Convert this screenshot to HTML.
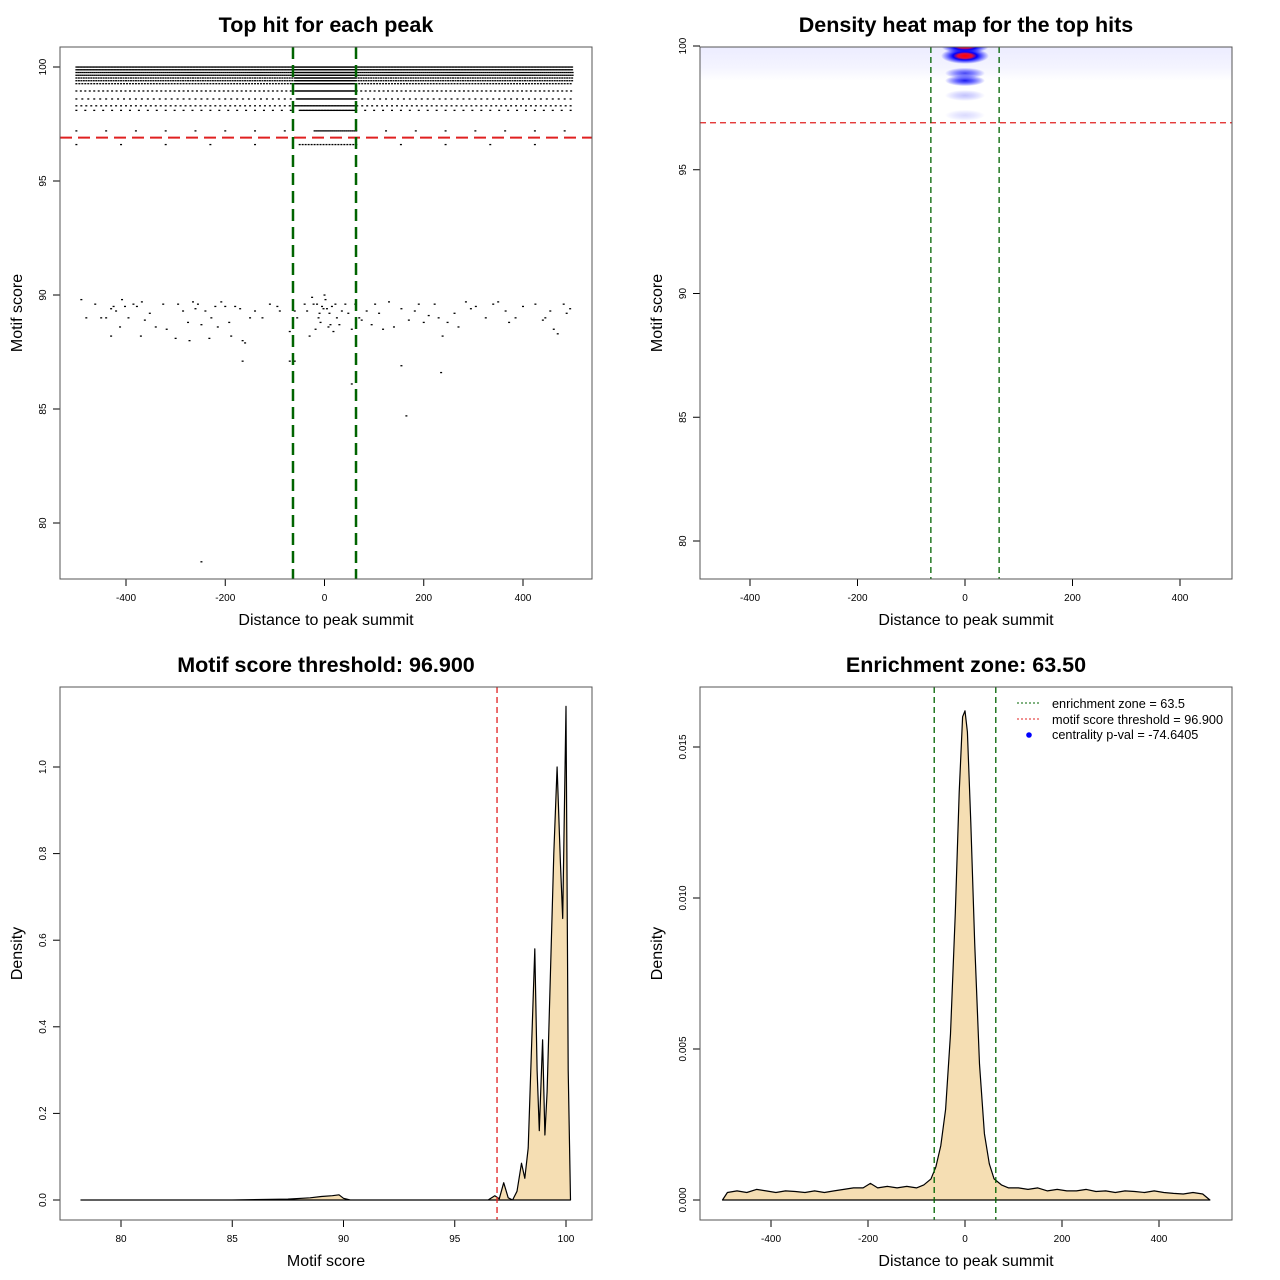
<!DOCTYPE html>
<html><head><meta charset="utf-8">
<style>
html,body{margin:0;padding:0;background:#fff;}
svg{display:block;font-family:"Liberation Sans",sans-serif;}
</style></head>
<body>
<svg id="root" width="1280" height="1280" viewBox="0 0 1280 1280"></svg>
<script>
// ---------- DATA ----------
const rowScores = [100, 99.88, 99.76, 99.64, 99.52, 99.4, 99.27, 98.95, 98.6, 98.3, 98.1, 97.2, 96.6];
const rowOuterStep = [3, 3, 4, 4, 5, 5, 6, 9, 12, 10, 18, 60, 90];
const rowCenterStep = [2, 2, 2, 2, 2, 2, 2, 2, 2, 3, 3, 4, 6];
const sparseX = [-490,-480,-462,-450,-440,-430,-420,-412,-408,-402,-395,-385,-378,-370,-362,-352,-340,-325,-318,-300,-295,-285,-275,-272,-265,-260,-255,-248,-240,-232,-228,-220,-215,-208,-200,-192,-188,-180,-170,-165,-160,-150,-140,-125,-110,-95,-90,-70,-60,-55,-40,-35,-30,-25,-22,-18,-15,-12,-10,-8,-5,-2,0,2,5,8,10,12,15,18,22,25,30,35,42,48,55,62,70,75,85,95,102,110,118,130,140,155,170,182,190,200,210,222,230,238,248,262,270,285,295,305,325,340,350,365,372,385,400,425,440,445,455,462,470,482,488,495,-368,-430,-425,-248,-165,-60,-70,55,165,155,235];
const sparseY = [89.8,89.0,89.6,89.0,89.0,88.2,89.3,88.6,89.8,89.5,89.0,89.6,89.5,88.2,88.9,89.2,88.6,89.6,88.5,88.1,89.6,89.3,88.8,88.0,89.7,89.4,89.6,88.7,89.3,88.1,89.0,89.5,88.6,89.7,89.5,88.8,88.2,89.5,89.4,88.0,87.9,89.0,89.3,89.0,89.6,89.5,89.3,88.4,89.3,89.0,89.6,89.3,88.2,89.9,89.6,88.5,89.6,89.0,89.2,88.8,89.5,89.4,90.0,89.8,89.4,88.6,89.2,88.7,89.5,88.4,89.6,89.0,88.7,89.3,89.6,89.2,88.5,89.6,89.0,88.9,89.3,88.7,89.6,89.2,88.5,89.7,88.6,89.4,88.9,89.3,89.6,88.8,89.1,89.6,89.0,88.2,88.8,89.2,88.6,89.7,89.4,89.5,89.0,89.6,89.7,89.3,88.8,89.0,89.5,89.6,88.9,89.0,89.3,88.5,88.3,89.6,89.2,89.4,89.7,89.4,89.5,78.3,87.1,87.1,87.1,86.1,84.7,86.9,86.6,86.4,86.5,84.0];
const blobScore = [100.0, 99.6, 98.9, 98.6, 98.0, 97.2];
const blobIntensity = [1.0, 1.0, 0.6, 0.75, 0.2, 0.12];
const msX = [78.2,85,87.5,88.5,89,89.5,89.8,90,90.3,96.5,96.8,97.0,97.2,97.4,97.6,97.8,98.0,98.15,98.3,98.45,98.6,98.7,98.8,98.95,99.05,99.15,99.3,99.45,99.6,99.75,99.85,100.0,100.1,100.2];
const msY = [0,0,0.002,0.005,0.008,0.01,0.012,0.004,0,0,0.01,0.003,0.04,0.005,0.0,0.02,0.085,0.05,0.12,0.35,0.58,0.3,0.16,0.37,0.15,0.25,0.52,0.8,1.0,0.78,0.65,1.14,0.3,0];
const ddX = [-500,-490,-470,-450,-430,-410,-390,-370,-350,-330,-310,-290,-270,-250,-230,-210,-195,-180,-160,-140,-120,-100,-85,-70,-60,-50,-40,-30,-20,-12,-5,0,5,12,20,30,40,50,60,75,90,110,130,150,170,190,210,230,250,270,290,310,330,350,370,390,410,430,450,470,490,505];
const ddY = [0,0.00025,0.0003,0.00025,0.00035,0.0003,0.00025,0.0003,0.00028,0.00025,0.0003,0.00025,0.0003,0.00035,0.0004,0.0004,0.00055,0.0004,0.00045,0.0004,0.00045,0.0004,0.0005,0.0007,0.0011,0.0018,0.003,0.0055,0.0095,0.0135,0.016,0.0162,0.0155,0.0125,0.0085,0.0045,0.0022,0.0012,0.0007,0.0005,0.0004,0.0004,0.00035,0.0004,0.0003,0.00035,0.0003,0.0003,0.00035,0.00028,0.0003,0.00025,0.0003,0.00028,0.00025,0.0003,0.00025,0.00022,0.0002,0.00025,0.0002,0];
const enrichment = 63.5, threshold = 96.9;

// ---------- HELPERS ----------
const NS="http://www.w3.org/2000/svg";
const root=document.getElementById('root');
function mk(tag,attrs,parent){const e=document.createElementNS(NS,tag);for(const k in attrs)e.setAttribute(k,attrs[k]);(parent||root).appendChild(e);return e;}
function txt(s,attrs,parent){const e=mk('text',attrs,parent);e.textContent=s;return e;}
function lin(d0,d1,p0,p1){return v=>p0+(v-d0)*(p1-p0)/(d1-d0);}

function panel(name,box,title,xlab,ylab,xt,xs,yt,ys,yfmt){
  const g=mk('g',{});
  
  
  const t=txt(title,{x:(box.x0+box.x1)/2,y:box.y0-15,'text-anchor':'middle','font-size':21.5,'font-weight':'bold'},g);
  
  
  const xl=txt(xlab,{x:(box.x0+box.x1)/2,y:box.y1+46,'text-anchor':'middle','font-size':16},g);
  
  
  const cy=(box.y0+box.y1)/2, lx=box.x0-44;
  const yl=txt(ylab,{x:lx,y:cy+6,'text-anchor':'middle','font-size':16,transform:`rotate(-90 ${lx} ${cy})`},g);
  
  
  xt.forEach(v=>{const x=xs(v);
    mk('line',{x1:x,x2:x,y1:box.y1,y2:box.y1+7,stroke:'#000'},g);
    const l=txt(String(v),{x:x,y:box.y1+22,'text-anchor':'middle','font-size':10},g);
    
    
  });
  yt.forEach(v=>{const y=ys(v);
    mk('line',{x1:box.x0-7,x2:box.x0,y1:y,y2:y,stroke:'#000'},g);
    const lx=box.x0-14;
    const l=txt(yfmt(v),{x:lx,y:y,'text-anchor':'middle','font-size':10,transform:`rotate(-90 ${lx} ${y})`},g);
    
    
  });
  return g;
}
function frame(box,g){const r=mk('rect',{x:box.x0,y:box.y0,width:box.x1-box.x0,height:box.y1-box.y0,fill:'none',stroke:'#555','stroke-width':1},g);}

// ---------- PANEL 1 ----------
(function(){
  const box={x0:60,y0:47,x1:592,y1:579};
  const xs=lin(0,400,324.5,523), ys=lin(100,80,67,523);
  const g=panel('scatter-panel',box,'Top hit for each peak','Distance to peak summit','Motif score',[-400,-200,0,200,400],xs,[100,95,90,85,80],ys,v=>String(v));
  const pts=mk('g',{fill:'#000'},g);
  
  
  rowScores.forEach((s,i)=>{
    const y=ys(s);
    for(let x=-500;x<=500;){
      const inC=Math.abs(x)<63.5;
      const p=mk('rect',{x:xs(x)-1,y:y-0.6,width:2,height:1.3},pts);
      
      x+= inC?rowCenterStep[i]:rowOuterStep[i];
    }
  });
  sparseX.forEach((x,i)=>{
    const p=mk('rect',{x:xs(x)-1,y:ys(sparseY[i])-0.6,width:2,height:1.3},pts);
    
  });
  const h=mk('line',{x1:box.x0,x2:box.x1,y1:ys(threshold),y2:ys(threshold),stroke:'#e02020','stroke-width':2,'stroke-dasharray':'12 6'},g);
  
  [-enrichment,enrichment].forEach(v=>{const l=mk('line',{x1:xs(v),x2:xs(v),y1:box.y0,y2:box.y1,stroke:'#006400','stroke-width':2.5,'stroke-dasharray':'12 6'},g);
    });
  frame(box,g);
})();

// ---------- PANEL 2 ----------
(function(){
  const box={x0:700,y0:47,x1:1232,y1:579};
  const xs=lin(0,400,965,1180), ys=lin(100,80,46,541);
  const g=panel('heatmap-panel',box,'Density heat map for the top hits','Distance to peak summit','Motif score',[-400,-200,0,200,400],xs,[100,95,90,85,80],ys,v=>String(v));
  const defs=mk('defs',{},g);
  defs.innerHTML=`<radialGradient id="hot"><stop offset="0" stop-color="#ff0000"/><stop offset="0.3" stop-color="#e01040"/><stop offset="0.5" stop-color="#0000ff"/><stop offset="1" stop-color="#0000ff" stop-opacity="0"/></radialGradient>
  <radialGradient id="blu"><stop offset="0" stop-color="#0000ee"/><stop offset="0.4" stop-color="#2020ff" stop-opacity="0.8"/><stop offset="1" stop-color="#0000ff" stop-opacity="0"/></radialGradient>
  <clipPath id="hc"><rect x="${box.x0}" y="${box.y0}" width="${box.x1-box.x0}" height="${box.y1-box.y0}"/></clipPath>
  <linearGradient id="band" x1="0" y1="0" x2="0" y2="1"><stop offset="0" stop-color="#ececff"/><stop offset="0.6" stop-color="#f4f4ff"/><stop offset="1" stop-color="#ffffff"/></linearGradient>`;
  const hg=mk('g',{'clip-path':'url(#hc)'},g);
  const band=mk('rect',{x:box.x0,y:box.y0,width:box.x1-box.x0,height:ys(98.6)-box.y0,fill:'url(#band)'},hg);
  
  blobScore.forEach((s,i)=>{
    const I=blobIntensity[i];
    const c=mk('ellipse',{cx:xs(0),cy:ys(s),rx:I>0.9?24:20,ry:I>0.9?8:5.5,fill:I>0.9?'url(#hot)':'url(#blu)',opacity:Math.min(1,I*1.2)},hg);
    
  });
  const h=mk('line',{x1:box.x0,x2:box.x1,y1:ys(threshold),y2:ys(threshold),stroke:'#e02020','stroke-width':1.2,'stroke-dasharray':'6 4'},g);
  
  [-enrichment,enrichment].forEach(v=>{const l=mk('line',{x1:xs(v),x2:xs(v),y1:box.y0,y2:box.y1,stroke:'#006400','stroke-width':1.3,'stroke-dasharray':'6 4'},g);
    });
  frame(box,g);
})();

// ---------- PANEL 3 ----------
(function(){
  const box={x0:60,y0:687,x1:592,y1:1220};
  const xs=lin(80,100,121,566), ys=lin(0,1,1200,767);
  const g=panel('score-density-panel',box,'Motif score threshold: 96.900','Motif score','Density',[80,85,90,95,100],xs,[0,0.2,0.4,0.6,0.8,1.0],ys,v=>v.toFixed(1));
  let d='M'+xs(msX[0])+','+ys(0);
  msX.forEach((x,i)=>{d+=' L'+xs(x).toFixed(1)+','+ys(msY[i]).toFixed(1);});
  d+=' L'+xs(msX[msX.length-1])+','+ys(0)+' Z';
  const a=mk('path',{d:d,fill:'#f5deb3',stroke:'#000','stroke-width':1.2,'stroke-linejoin':'round'},g);
  
  const v=mk('line',{x1:xs(threshold),x2:xs(threshold),y1:box.y0,y2:box.y1,stroke:'#e02020','stroke-width':1.3,'stroke-dasharray':'6 4'},g);
  
  frame(box,g);
})();

// ---------- PANEL 4 ----------
(function(){
  const box={x0:700,y0:687,x1:1232,y1:1220};
  const xs=lin(0,400,965,1159), ys=lin(0,0.015,1200,747);
  const g=panel('distance-density-panel',box,'Enrichment zone: 63.50','Distance to peak summit','Density',[-400,-200,0,200,400],xs,[0,0.005,0.010,0.015],ys,v=>v.toFixed(3));
  let d='M'+xs(ddX[0])+','+ys(0);
  ddX.forEach((x,i)=>{d+=' L'+xs(x).toFixed(1)+','+ys(ddY[i]).toFixed(1);});
  d+=' Z';
  const a=mk('path',{d:d,fill:'#f5deb3',stroke:'#000','stroke-width':1.2,'stroke-linejoin':'round'},g);
  
  [-enrichment,enrichment].forEach(v=>{const l=mk('line',{x1:xs(v),x2:xs(v),y1:box.y0,y2:box.y1,stroke:'#006400','stroke-width':1.3,'stroke-dasharray':'6 4'},g);
    });
  const lg=mk('g',{'font-size':12.7},g);
  
  const e1=mk('line',{x1:1017,x2:1041,y1:703,y2:703,stroke:'#006400','stroke-dasharray':'2 2'},lg);
  
  txt('enrichment zone = 63.5',{x:1052,y:708},lg);
  const e2=mk('line',{x1:1017,x2:1041,y1:719,y2:719,stroke:'#e02020','stroke-dasharray':'2 2'},lg);
  
  txt('motif score threshold = 96.900',{x:1052,y:724},lg);
  const e3=mk('circle',{cx:1029,cy:735,r:2.8,fill:'#0000ff'},lg);
  
  txt('centrality p-val = -74.6405',{x:1052,y:739},lg);
  frame(box,g);
})();
</script>
</body></html>
